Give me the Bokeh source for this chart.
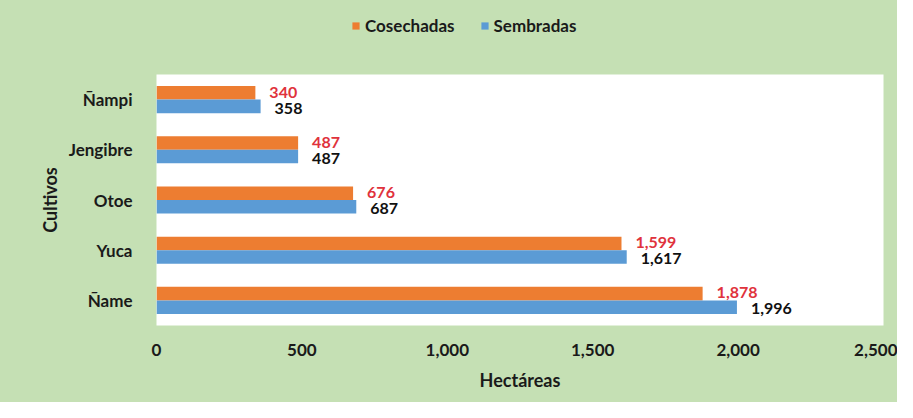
from bokeh.plotting import figure
from bokeh.layouts import column
from bokeh.models import ColumnDataSource, Legend, LegendItem, NumeralTickFormatter, LabelSet, FixedTicker
from bokeh.transform import dodge
from bokeh.core.properties import value
from bokeh.embed import file_html
from bokeh.resources import INLINE

# Data
cultivos = ["Ñame", "Yuca", "Otoe", "Jengibre", "Ñampi"]
cosechadas = [1878, 1599, 676, 487, 340]
sembradas = [1996, 1617, 687, 487, 358]
x_ticks = [0, 500, 1000, 1500, 2000, 2500]
series_names = ["Cosechadas", "Sembradas"]

FONT = "Lato"
ORANGE = "#ED7D31"
BLUE = "#5B9BD5"
GREEN = "#C5E0B4"
W = 897

src = ColumnDataSource(dict(
    cultivo=cultivos,
    cos=cosechadas,
    sem=sembradas,
    cos_lbl=[f"{v:,}" for v in cosechadas],
    sem_lbl=[f"{v:,}" for v in sembradas],
))

# ---- legend strip on top (its bars are hidden; only the legend shows) ----
lg = figure(width=W, height=74, x_range=(-10, -5), y_range=cultivos,
            output_backend="svg", toolbar_location=None, min_border=0)
lg.axis.visible = False
lg.grid.visible = False
lg.outline_line_color = None
lg.background_fill_color = GREEN
lg.border_fill_color = GREEN
lg.styles = {"background-color": GREEN}
lr_cos = lg.hbar(y="cultivo", right="cos", left=0, height=0.27, source=src, color=ORANGE, line_color=None)
lr_sem = lg.hbar(y="cultivo", right="sem", left=0, height=0.27, source=src, color=BLUE, line_color=None)
lr_cos.visible = False
lr_sem.visible = False
legend = Legend(items=[LegendItem(label=series_names[0], renderers=[lr_cos]),
                       LegendItem(label=series_names[1], renderers=[lr_sem])],
                orientation="horizontal", location=(195, 38),
                background_fill_alpha=0, border_line_color=None,
                label_text_font=FONT, label_text_font_style="bold", label_text_font_size="17px",
                label_text_color="#1a1a1a",
                glyph_width=9, glyph_height=9, spacing=25, label_standoff=5, padding=0, margin=0)
lg.add_layout(legend, "center")

# ---- main chart ----
p = figure(width=W, height=328, y_range=cultivos, x_range=(0, 2500),
           output_backend="svg", toolbar_location=None,
           min_border_left=156, min_border_right=14, min_border_top=0, min_border_bottom=77)

p.border_fill_color = GREEN
p.background_fill_color = "white"
p.outline_line_color = None
p.styles = {"background-color": GREEN}

p.hbar(y=dodge("cultivo", 0.135, range=p.y_range), right="cos", left=0, height=0.27,
       source=src, color=ORANGE, line_color=None)
p.hbar(y=dodge("cultivo", -0.135, range=p.y_range), right="sem", left=0, height=0.27,
       source=src, color=BLUE, line_color=None)

lab_cos = LabelSet(x="cos", y=dodge("cultivo", 0.15, range=p.y_range), text="cos_lbl", source=src,
                   x_offset=14, text_baseline="middle", text_color="#E0323C",
                   text_font=value(FONT), text_font_style="bold", text_font_size="16px")
lab_sem = LabelSet(x="sem", y=dodge("cultivo", -0.17, range=p.y_range), text="sem_lbl", source=src,
                   x_offset=14, text_baseline="middle", text_color="#111111",
                   text_font=value(FONT), text_font_style="bold", text_font_size="16px")
p.add_layout(lab_cos)
p.add_layout(lab_sem)

p.xgrid.grid_line_color = None
p.ygrid.grid_line_color = None

p.xaxis.ticker = FixedTicker(ticks=x_ticks)
p.xaxis.formatter = NumeralTickFormatter(format="0,0")
for ax in (p.xaxis[0], p.yaxis[0]):
    ax.axis_line_color = None
    ax.major_tick_line_color = None
    ax.minor_tick_line_color = None
    ax.major_label_text_font = FONT
    ax.major_label_text_font_style = "bold"
    ax.major_label_text_font_size = "17px"
    ax.major_label_text_color = "#1a1a1a"
    ax.axis_label_text_font = FONT
    ax.axis_label_text_font_style = "bold"
    ax.axis_label_text_font_size = "18px"
    ax.axis_label_text_color = "#1a1a1a"

p.xaxis.axis_label = "Hectáreas"
p.yaxis.axis_label = "Cultivos"
p.xaxis.major_label_standoff = 12
p.xaxis.axis_label_standoff = 10
p.yaxis.major_label_standoff = 18
p.yaxis.axis_label_standoff = 5

layout = column(lg, p, spacing=0)
layout.styles = {"background-color": GREEN}
html = file_html(layout, INLINE)
html = html.replace("<body>", '<body style="background-color: %s;">' % GREEN, 1)
open("out.html", "w").write(html)
